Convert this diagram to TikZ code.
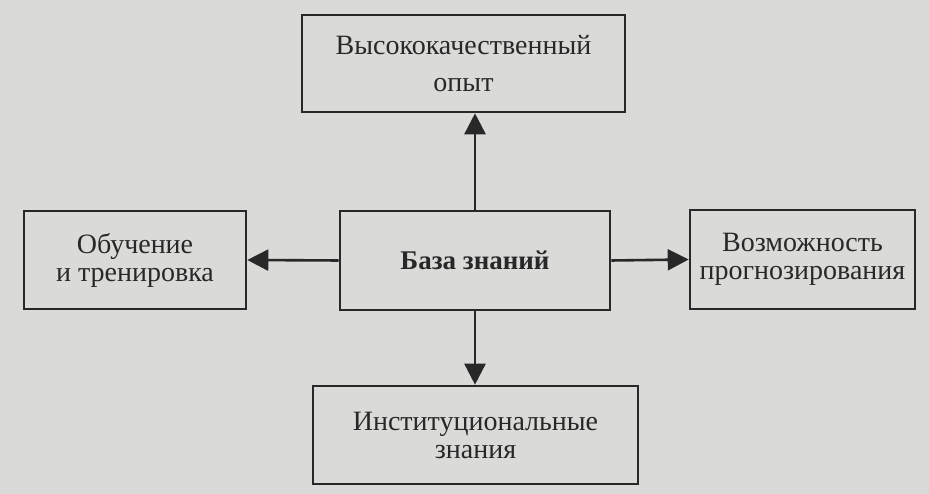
\documentclass[tikz,border=0pt]{standalone}
\usepackage{fontspec}
\setmainfont{Liberation Serif}
\usetikzlibrary{arrows.meta}
\definecolor{paper}{RGB}{218,218,216}
\definecolor{ink}{RGB}{40,40,40}
\begin{document}
\begin{tikzpicture}[x=1pt,y=1pt,
  box/.style={draw=ink, line width=2.6pt, fill=paper, inner sep=0pt, align=center,
    text=ink, font=\fontsize{28}{28}\selectfont},
  conn/.style={draw=ink, line width=2.6pt, -{Triangle[length=21pt,width=21pt]}}]
\fill[paper] (0,0) rectangle (929,494);
\useasboundingbox (0,0) rectangle (929,494);
\node[box, minimum width=323pt, minimum height=97pt, font=\fontsize{28}{37}\selectfont] (top) at (463.5,430.5) {Высококачественный\\опыт};
\node[box, minimum width=270pt, minimum height=99pt, font=\fontsize{27}{28}\selectfont\bfseries] (kb) at (475,233.5) {База знаний};
\node[box, minimum width=222pt, minimum height=98pt] (left) at (135,234) {Обучение\\и тренировка};
\node[box, minimum width=225pt, minimum height=99pt] (right) at (802.5,234.5) {Возможность\\прогнозирования};
\node[box, minimum width=325pt, minimum height=98pt] (bottom) at (475.5,59) {Институциональные\\знания};
\draw[conn] (kb.north) -- (kb.north |- top.south);
\draw[conn] (kb.west) -- (left.east);
\draw[conn] (kb.east) -- (right.west);
\draw[conn] (kb.south) -- (kb.south |- bottom.north);
\end{tikzpicture}
\end{document}
